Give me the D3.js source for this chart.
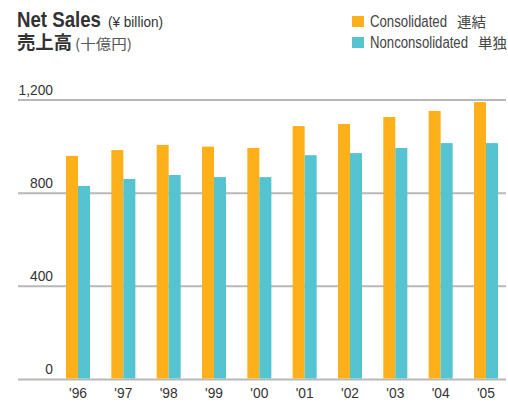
<!DOCTYPE html>
<html>
<head>
<meta charset="utf-8">
<script src="https://cdn.jsdelivr.net/npm/d3@7"></script>
<style>
  body { margin: 0; background: #fff; }
  svg { display: block; font-family: "Liberation Sans", Arial, sans-serif; }
</style>
</head>
<body>
<svg id="chart" width="508" height="405"></svg>
<script>
// Fiscal years and net sales (¥ billion)
const years = ["'96", "'97", "'98", "'99", "'00", "'01", "'02", "'03", "'04", "'05"];
const consolidated = [960, 985, 1007, 1000, 994, 1088, 1097, 1127, 1153, 1191];
const nonconsolidated = [831, 861, 878, 869, 869, 963, 972, 994, 1015, 1015];
const yTicks = [0, 400, 800, 1200];
const seriesNames = ['Consolidated', 'Nonconsolidated'];
const seriesNamesJa = ['連結', '単独'];
const seriesColors = ['#fdb019', '#55c4d0'];

const svg = d3.select('#chart');
const jp = '"Noto Sans CJK JP", sans-serif';

// squeeze a text to a given width (the original uses a condensed face)
function label(x, y, str, size, width, opts = {}) {
  const t = svg.append('text')
    .attr('x', x).attr('y', y)
    .attr('font-size', size)
    .attr('fill', opts.fill || '#333')
    .text(str);
  if (opts.bold) t.attr('font-weight', 'bold');
  if (opts.family) t.attr('font-family', opts.family);
  if (width) t.attr('textLength', width).attr('lengthAdjust', 'spacingAndGlyphs');
  return t;
}

const x = d3.scaleBand().domain(years).range([66, 498]).paddingInner(0.47);
const xs = d3.scaleBand().domain([0, 1]).range([0, x.bandwidth()]);
const y = d3.scaleLinear().domain([0, 1200]).range([379.5, 100]);

// gridlines
svg.append('g')
  .selectAll('line')
  .data(yTicks)
  .join('line')
  .attr('x1', 18)
  .attr('x2', 506)
  .attr('y1', d => y(d))
  .attr('y2', d => y(d))
  .attr('stroke', '#b8b8b8')
  .attr('stroke-width', 2);

// tick labels
svg.append('g')
  .selectAll('text')
  .data(yTicks)
  .join('text')
  .attr('x', 53)
  .attr('y', d => y(d) - 5)
  .attr('text-anchor', 'end')
  .attr('font-size', 15)
  .attr('fill', '#333')
  .attr('transform', d => `translate(53,0) scale(0.92,1) translate(-53,0)`)
  .text(d => d3.format(',')(d));

// bars
const rows = years.map((yr, i) => ({yr, vals: [consolidated[i], nonconsolidated[i]]}));
const groups = svg.append('g')
  .selectAll('g')
  .data(rows)
  .join('g')
  .attr('transform', d => `translate(${x(d.yr)},0)`);
groups.selectAll('rect')
  .data(d => d.vals.map((v, k) => ({v, k})))
  .join('rect')
  .attr('x', d => xs(d.k))
  .attr('width', xs.bandwidth())
  .attr('y', d => y(d.v))
  .attr('height', d => y(0) - y(d.v) - 1)
  .attr('fill', d => seriesColors[d.k]);

// year labels
svg.append('g')
  .selectAll('text')
  .data(years)
  .join('text')
  .attr('x', d => x(d) + x.bandwidth() / 2)
  .attr('y', 398)
  .attr('text-anchor', 'middle')
  .attr('font-size', 15)
  .attr('fill', '#333')
  .attr('transform', d => {
    const cx = x(d) + x.bandwidth() / 2;
    return `translate(${cx},0) scale(0.92,1) translate(${-cx},0)`;
  })
  .text(d => d);

// title
label(17, 27, 'Net Sales', 22, 84, {bold: true});
label(108, 27, '(¥ billion)', 14, 55);
label(17, 49, '売上高', 18, 55, {bold: true, family: jp});
label(75, 49, '(十億円)', 14, 57, {family: jp, fill: '#555'});

// legend
const nameW = [77, 98];
seriesNames.forEach((name, i) => {
  const top = 16 + i * 21;
  svg.append('rect')
    .attr('x', 352).attr('y', top)
    .attr('width', 12).attr('height', 11)
    .attr('fill', seriesColors[i]);
  label(370, top + 11, name, 16, nameW[i], {fill: '#444'});
  label(370 + nameW[i] + 10, top + 11, seriesNamesJa[i], 14, 29, {family: jp, fill: '#444'});
});
</script>
</body>
</html>
